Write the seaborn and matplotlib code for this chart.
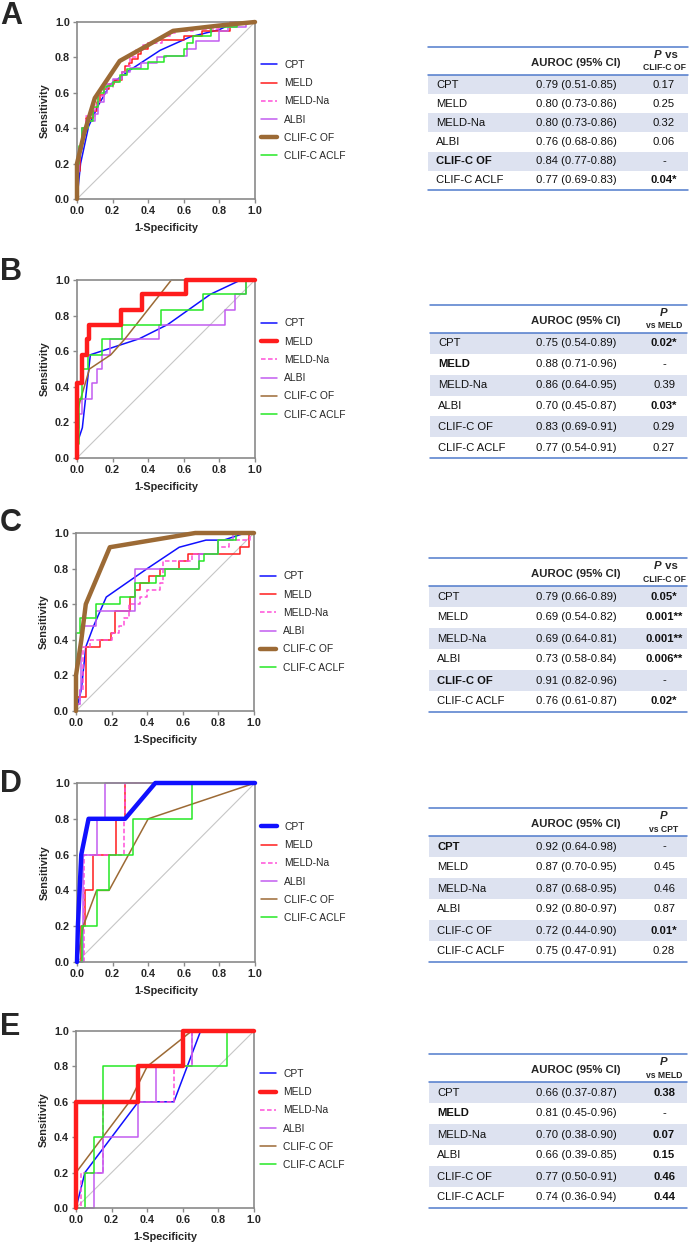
import numpy as np
import pandas as pd
import matplotlib
matplotlib.use('Agg')
import matplotlib.pyplot as plt
import seaborn as sns

# ---- data ----
methods = ['CPT', 'MELD', 'MELD-Na', 'ALBI', 'CLIF-C OF', 'CLIF-C ACLF']
panels = ['A', 'B', 'C', 'D', 'E']
reference = ['CLIF-C OF', 'MELD', 'CLIF-C OF', 'CPT', 'MELD']
p_head_1 = ['P vs', 'P', 'P vs', 'P', 'P']
p_head_2 = ['CLIF-C OF', 'vs MELD', 'CLIF-C OF', 'vs CPT', 'vs MELD']

# panel A
a_cpt_fpr = [0, 0.02, 0.065, 0.12, 0.187, 0.3, 0.467, 0.636, 0.80, 0.89, 1.0]
a_cpt_tpr = [0, 0.2, 0.41, 0.53, 0.647, 0.73, 0.84, 0.916, 0.957, 1.0, 1.0]
a_meld_fpr = [0, 0.015, 0.03, 0.05, 0.09, 0.11, 0.13, 0.15, 0.18, 0.21, 0.25, 0.27, 0.29, 0.31, 0.34, 0.36, 0.40, 0.44, 0.60, 0.70, 0.86, 1.0]
a_meld_tpr = [0, 0.16, 0.28, 0.40, 0.46, 0.50, 0.55, 0.59, 0.62, 0.65, 0.67, 0.72, 0.75, 0.77, 0.79, 0.82, 0.85, 0.88, 0.90, 0.92, 0.95, 1.0]
a_meldna_fpr = [0, 0.01, 0.03, 0.05, 0.10, 0.12, 0.15, 0.20, 0.24, 0.28, 0.30, 0.33, 0.37, 0.40, 0.48, 0.52, 0.56, 0.65, 0.80, 0.90, 1.0]
a_meldna_tpr = [0, 0.20, 0.30, 0.40, 0.47, 0.53, 0.58, 0.63, 0.66, 0.70, 0.75, 0.80, 0.84, 0.87, 0.88, 0.92, 0.94, 0.95, 0.96, 0.98, 1.0]
a_albi_fpr = [0, 0.01, 0.03, 0.06, 0.10, 0.12, 0.15, 0.17, 0.20, 0.25, 0.30, 0.36, 0.45, 0.50, 0.62, 0.67, 0.80, 0.85, 0.95, 1.0]
a_albi_tpr = [0, 0.15, 0.28, 0.40, 0.44, 0.48, 0.55, 0.60, 0.65, 0.68, 0.72, 0.74, 0.77, 0.80, 0.81, 0.85, 0.89, 0.95, 0.97, 1.0]
a_of_fpr = [0, 0, 0.04, 0.10, 0.24, 0.40, 0.54, 0.80, 1.0]
a_of_tpr = [0, 0.2, 0.37, 0.57, 0.78, 0.87, 0.95, 0.98, 1.0]
a_aclf_fpr = [0, 0.01, 0.03, 0.06, 0.09, 0.12, 0.15, 0.17, 0.20, 0.24, 0.28, 0.40, 0.49, 0.60, 0.62, 0.65, 0.75, 0.90, 1.0]
a_aclf_tpr = [0, 0.2, 0.3, 0.4, 0.44, 0.52, 0.6, 0.63, 0.64, 0.66, 0.70, 0.735, 0.775, 0.81, 0.85, 0.88, 0.92, 0.97, 1.0]

# panel B
b_cpt_fpr = [0, 0, 0.03, 0.075, 0.35, 0.51, 0.75, 0.92, 1.0]
b_cpt_tpr = [0, 0.08, 0.17, 0.58, 0.67, 0.75, 0.92, 1.0, 1.0]
b_meld_fpr = [0, 0.03, 0.056, 0.07, 0.245, 0.365, 0.61, 1.0]
b_meld_tpr = [0, 0.42, 0.58, 0.67, 0.75, 0.83, 0.92, 1.0]
b_meldna_fpr = [0, 0.03, 0.056, 0.07, 0.245, 0.365, 0.61, 1.0]
b_meldna_tpr = [0, 0.42, 0.58, 0.67, 0.75, 0.83, 0.92, 1.0]
b_albi_fpr = [0, 0.01, 0.03, 0.085, 0.11, 0.14, 0.185, 0.46, 0.83, 0.89, 0.95, 1.0]
b_albi_tpr = [0, 0.17, 0.25, 0.33, 0.42, 0.5, 0.58, 0.67, 0.75, 0.83, 0.92, 1.0]
b_of_fpr = [0, 0, 0.02, 0.07, 0.19, 0.27, 0.53, 1.0]
b_of_tpr = [0, 0.25, 0.33, 0.5, 0.58, 0.67, 1.0, 1.0]
b_aclf_fpr = [0, 0.01, 0.03, 0.06, 0.14, 0.25, 0.47, 0.71, 0.95, 1.0]
b_aclf_tpr = [0, 0.08, 0.33, 0.5, 0.58, 0.67, 0.75, 0.83, 0.92, 1.0]

# panel C
c_cpt_fpr = [0, 0.03, 0.055, 0.10, 0.17, 0.40, 0.58, 0.73, 0.83, 0.95, 1.0]
c_cpt_tpr = [0, 0.12, 0.36, 0.48, 0.64, 0.80, 0.92, 0.96, 0.96, 1.0, 1.0]
c_meld_fpr = [0, 0.055, 0.135, 0.195, 0.22, 0.305, 0.33, 0.36, 0.41, 0.47, 0.58, 0.63, 0.92, 0.97, 1.0]
c_meld_tpr = [0, 0.08, 0.36, 0.40, 0.44, 0.56, 0.64, 0.68, 0.72, 0.76, 0.80, 0.84, 0.88, 0.92, 1.0]
c_meldna_fpr = [0, 0.02, 0.04, 0.08, 0.2, 0.24, 0.27, 0.3, 0.36, 0.4, 0.47, 0.49, 0.65, 0.8, 0.86, 0.98, 1.0]
c_meldna_tpr = [0, 0.04, 0.12, 0.36, 0.40, 0.44, 0.48, 0.52, 0.60, 0.64, 0.68, 0.72, 0.84, 0.88, 0.92, 0.96, 1.0]
c_albi_fpr = [0, 0.02, 0.03, 0.11, 0.33, 0.69, 0.80, 0.88, 1.0]
c_albi_tpr = [0, 0.04, 0.12, 0.48, 0.56, 0.80, 0.88, 0.96, 1.0]
c_of_fpr = [0, 0, 0.03, 0.055, 0.19, 0.67, 1.0]
c_of_tpr = [0, 0.2, 0.4, 0.6, 0.92, 1.0, 1.0]
c_aclf_fpr = [0, 0.025, 0.11, 0.245, 0.33, 0.45, 0.50, 0.69, 0.72, 0.80, 0.90, 1.0]
c_aclf_tpr = [0, 0.44, 0.52, 0.60, 0.64, 0.72, 0.76, 0.80, 0.84, 0.88, 0.96, 1.0]

# panel D
d_cpt_fpr = [0, 0.005, 0.024, 0.065, 0.27, 0.44, 1.0]
d_cpt_tpr = [0, 0.2, 0.6, 0.8, 0.8, 1.0, 1.0]
d_meld_fpr = [0, 0.02, 0.047, 0.088, 0.22, 0.267, 1.0]
d_meld_tpr = [0, 0, 0.2, 0.4, 0.6, 0.8, 1.0]
d_meldna_fpr = [0, 0.04, 0.265, 0.27, 1.0]
d_meldna_tpr = [0, 0, 0.6, 0.8, 1.0]
d_albi_fpr = [0, 0.035, 0.11, 0.16, 1.0]
d_albi_tpr = [0, 0, 0.6, 0.8, 1.0]
d_of_fpr = [0, 0.035, 0.11, 0.18, 0.40, 1.0]
d_of_tpr = [0, 0.2, 0.4, 0.4, 0.8, 1.0]
d_aclf_fpr = [0, 0.03, 0.11, 0.18, 0.315, 0.645, 1.0]
d_aclf_tpr = [0, 0, 0.2, 0.4, 0.6, 0.8, 1.0]

# panel E
e_cpt_fpr = [0, 0.05, 0.35, 0.55, 0.70, 1.0]
e_cpt_tpr = [0, 0.2, 0.6, 0.6, 1.0, 1.0]
e_meld_fpr = [0, 0.35, 0.60, 1.0]
e_meld_tpr = [0, 0.6, 0.8, 1.0]
e_meldna_fpr = [0, 0.03, 0.15, 0.55, 0.65, 1.0]
e_meldna_tpr = [0, 0, 0.2, 0.6, 0.8, 1.0]
e_albi_fpr = [0, 0.10, 0.15, 0.35, 0.45, 0.65, 1.0]
e_albi_tpr = [0, 0, 0.2, 0.4, 0.6, 0.8, 1.0]
e_of_fpr = [0, 0, 0.15, 0.30, 0.40, 0.65, 1.0]
e_of_tpr = [0, 0.2, 0.40, 0.60, 0.80, 1.0, 1.0]
e_aclf_fpr = [0, 0.05, 0.10, 0.15, 0.85, 1.0]
e_aclf_tpr = [0, 0, 0.2, 0.4, 0.8, 1.0]

# tables
a_auroc = ['0.79 (0.51-0.85)', '0.80 (0.73-0.86)', '0.80 (0.73-0.86)', '0.76 (0.68-0.86)', '0.84 (0.77-0.88)', '0.77 (0.69-0.83)']
a_p = ['0.17', '0.25', '0.32', '0.06', '-', '0.04*']
a_p_bold = [0, 0, 0, 0, 0, 1]
b_auroc = ['0.75 (0.54-0.89)', '0.88 (0.71-0.96)', '0.86 (0.64-0.95)', '0.70 (0.45-0.87)', '0.83 (0.69-0.91)', '0.77 (0.54-0.91)']
b_p = ['0.02*', '-', '0.39', '0.03*', '0.29', '0.27']
b_p_bold = [1, 0, 0, 1, 0, 0]
c_auroc = ['0.79 (0.66-0.89)', '0.69 (0.54-0.82)', '0.69 (0.64-0.81)', '0.73 (0.58-0.84)', '0.91 (0.82-0.96)', '0.76 (0.61-0.87)']
c_p = ['0.05*', '0.001**', '0.001**', '0.006**', '-', '0.02*']
c_p_bold = [1, 1, 1, 1, 0, 1]
d_auroc = ['0.92 (0.64-0.98)', '0.87 (0.70-0.95)', '0.87 (0.68-0.95)', '0.92 (0.80-0.97)', '0.72 (0.44-0.90)', '0.75 (0.47-0.91)']
d_p = ['-', '0.45', '0.46', '0.87', '0.01*', '0.28']
d_p_bold = [0, 0, 0, 0, 1, 0]
e_auroc = ['0.66 (0.37-0.87)', '0.81 (0.45-0.96)', '0.70 (0.38-0.90)', '0.66 (0.39-0.85)', '0.77 (0.50-0.91)', '0.74 (0.36-0.94)']
e_p = ['0.38', '-', '0.07', '0.15', '0.46', '0.44']
e_p_bold = [1, 0, 1, 1, 1, 1]

ticks = [0, 0.2, 0.4, 0.6, 0.8, 1.0]
tick_labels = ['0.0', '0.2', '0.4', '0.6', '0.8', '1.0']
diag = [0, 1]

# lookups built from the arrays above
curves = {
    'A': [(a_cpt_fpr, a_cpt_tpr), (a_meld_fpr, a_meld_tpr), (a_meldna_fpr, a_meldna_tpr),
          (a_albi_fpr, a_albi_tpr), (a_of_fpr, a_of_tpr), (a_aclf_fpr, a_aclf_tpr)],
    'B': [(b_cpt_fpr, b_cpt_tpr), (b_meld_fpr, b_meld_tpr), (b_meldna_fpr, b_meldna_tpr),
          (b_albi_fpr, b_albi_tpr), (b_of_fpr, b_of_tpr), (b_aclf_fpr, b_aclf_tpr)],
    'C': [(c_cpt_fpr, c_cpt_tpr), (c_meld_fpr, c_meld_tpr), (c_meldna_fpr, c_meldna_tpr),
          (c_albi_fpr, c_albi_tpr), (c_of_fpr, c_of_tpr), (c_aclf_fpr, c_aclf_tpr)],
    'D': [(d_cpt_fpr, d_cpt_tpr), (d_meld_fpr, d_meld_tpr), (d_meldna_fpr, d_meldna_tpr),
          (d_albi_fpr, d_albi_tpr), (d_of_fpr, d_of_tpr), (d_aclf_fpr, d_aclf_tpr)],
    'E': [(e_cpt_fpr, e_cpt_tpr), (e_meld_fpr, e_meld_tpr), (e_meldna_fpr, e_meldna_tpr),
          (e_albi_fpr, e_albi_tpr), (e_of_fpr, e_of_tpr), (e_aclf_fpr, e_aclf_tpr)],
}
tables = {
    'A': (a_auroc, a_p, a_p_bold), 'B': (b_auroc, b_p, b_p_bold), 'C': (c_auroc, c_p, c_p_bold),
    'D': (d_auroc, d_p, d_p_bold), 'E': (e_auroc, e_p, e_p_bold),
}

# ---- styling / layout (pixels) ----
colors = {'CPT': '#1010ff', 'MELD': '#ff1c1c', 'MELD-Na': '#ff4fd8', 'ALBI': '#c25cf0',
          'CLIF-C OF': '#9c6a35', 'CLIF-C ACLF': '#26e826'}
stepped = {'MELD', 'MELD-Na', 'ALBI', 'CLIF-C ACLF'}
roc_boxes = [(77, 22, 255, 199), (77, 280, 255, 458), (76, 533, 254, 711),
             (77, 783, 255, 962), (76, 1031, 254, 1208)]
table_boxes = [(428, 47, 688, 190), (430, 305, 687, 458), (429, 558, 687, 712),
               (429, 808, 687, 962), (429, 1054, 687, 1208)]
letter_y = [16, 272, 523, 784, 1027]
shade = '#dde2f0'
rule = '#4f7acb'
spine_c = '#8a8a8a'

sns.set_style('ticks')
plt.rcParams['font.family'] = ['Liberation Sans', 'DejaVu Sans']

W, H = 696, 1242
fig = plt.figure(figsize=(W / 100, H / 100), dpi=100)


def px_axes(box):
    l, t, r, b = box
    return fig.add_axes([l / W, 1 - b / H, (r - l) / W, (b - t) / H])


for i, p in enumerate(panels):
    ax = px_axes(roc_boxes[i])
    sns.lineplot(x=diag, y=diag, ax=ax, color='#c6c6c6', lw=0.8, zorder=1)
    for m, (fpr, tpr) in zip(methods, curves[p]):
        thick = m == reference[i]
        sns.lineplot(x=fpr, y=tpr, ax=ax, sort=False, estimator=None,
                     color=colors[m], lw=3.2 if thick else 1.1,
                     ls=(0, (3, 1.6)) if m == 'MELD-Na' else '-',
                     drawstyle='steps-pre' if m in stepped else 'default',
                     label=m, zorder=4 if thick else 2, clip_on=False)
    ax.set_xlim(0, 1)
    ax.set_ylim(0, 1)
    ax.set_xticks(ticks, tick_labels, fontweight='bold', fontsize=7.8)
    ax.set_yticks(ticks, tick_labels, fontweight='bold', fontsize=7.8)
    ax.tick_params(direction='out', length=3, width=1, color=spine_c, pad=2)
    for s in ax.spines.values():
        s.set_color(spine_c)
        s.set_linewidth(1.2)
    ax.set_xlabel('1-Specificity', fontweight='bold', fontsize=7.8, labelpad=5)
    ax.set_ylabel('Sensitivity', fontweight='bold', fontsize=7.8, labelpad=4)
    ax.legend(loc='center left', bbox_to_anchor=(1.035, 0.5), frameon=False, fontsize=7.4,
              handlelength=1.55, handletextpad=0.7, labelspacing=0.8,
              borderaxespad=0, borderpad=0)
    fig.text(0, 1 - letter_y[i] / H, p, fontsize=22, fontweight='bold', ha='left', va='center')

    # table
    l, t, r, b = table_boxes[i]
    tax = px_axes(table_boxes[i])
    tw, th = r - l, b - t
    tax.set_xlim(0, tw)
    tax.set_ylim(th, 0)
    tax.axis('off')
    head_h = 28
    row_h = (th - head_h) / len(methods)
    for j in range(0, len(methods), 2):
        tax.axhspan(head_h + j * row_h, head_h + (j + 1) * row_h, color=shade, lw=0, zorder=0)
    for y in (0, head_h, th):
        tax.axhline(y, color=rule, lw=1.1, clip_on=False, zorder=3)
    lab_x, auc_x, p_x = 8, 576 - l, 664 - l
    tax.text(auc_x, 16, 'AUROC (95% CI)', ha='center', va='center', fontsize=8.2, fontweight='bold')
    if p_head_1[i] == 'P vs':
        pt = tax.text(p_x - 10, 8, 'P', ha='left', va='center', fontsize=8.2,
                      fontweight='bold', fontstyle='italic')
        tax.annotate(' vs', xy=(1, 0.5), xycoords=pt, ha='left', va='center',
                     fontsize=8.2, fontweight='bold')
    else:
        tax.text(p_x, 8, 'P', ha='center', va='center', fontsize=8.2,
                 fontweight='bold', fontstyle='italic')
    tax.text(p_x, 21, p_head_2[i], ha='center', va='center', fontsize=6.2, fontweight='bold')
    auroc, pvals, pbold = tables[p]
    for j, m in enumerate(methods):
        yc = head_h + (j + 0.5) * row_h
        tax.text(lab_x, yc, m, ha='left', va='center', fontsize=8.1, color='#111111',
                 fontweight='bold' if m == reference[i] else 'normal')
        tax.text(auc_x, yc, auroc[j], ha='center', va='center', fontsize=8.1, color='#111111')
        tax.text(p_x, yc, pvals[j], ha='center', va='center', fontsize=8.1, color='#111111',
                 fontweight='bold' if pbold[j] else 'normal')

fig.savefig('out.png', dpi=100)
